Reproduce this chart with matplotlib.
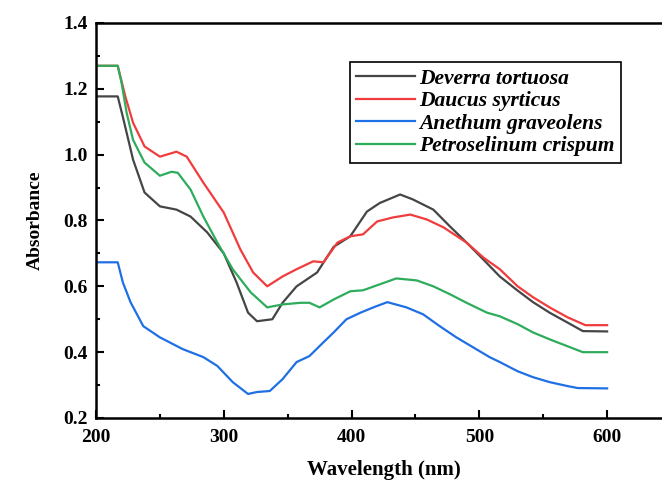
import numpy as np
import matplotlib
matplotlib.use("Agg")
import matplotlib.pyplot as plt
from matplotlib.ticker import MultipleLocator

plt.rcParams['font.family'] = ['Liberation Serif', 'DejaVu Serif']

# Deverra tortuosa
wl_dev = [200, 217, 221, 229, 238, 250, 263, 274, 287, 300, 310, 319, 326, 338, 346, 357,
          373, 386, 399, 412, 422, 438, 448, 464, 477, 490, 503, 516, 529, 542, 555, 569, 581, 600]
ab_dev = [1.177, 1.177, 1.115, 0.985, 0.885, 0.843, 0.833, 0.812, 0.764, 0.70, 0.612, 0.52, 0.494, 0.50, 0.55, 0.60,
          0.642, 0.72, 0.752, 0.827, 0.853, 0.879, 0.864, 0.833, 0.782, 0.733, 0.682, 0.63, 0.59, 0.552, 0.52, 0.49, 0.464, 0.463]

# Daucus syrticus
wl_dau = [200, 217, 223, 229, 238, 250, 263, 271, 284, 300, 313, 323, 334, 346, 357, 370, 378,
          389, 399, 409, 420, 432, 446, 459, 472, 490, 503, 516, 530, 542, 555, 569, 583, 600]
ab_dau = [1.27, 1.27, 1.176, 1.097, 1.025, 0.994, 1.009, 0.994, 0.915, 0.824, 0.712, 0.642, 0.60, 0.63, 0.652, 0.676, 0.673,
          0.733, 0.752, 0.758, 0.797, 0.809, 0.818, 0.803, 0.779, 0.733, 0.688, 0.652, 0.60, 0.567, 0.536, 0.506, 0.482, 0.482]

# Anethum graveolens
wl_ane = [200, 217, 221, 227, 237, 250, 268, 284, 295, 307, 319, 326, 336, 346, 357, 367, 378,
          386, 396, 407, 417, 428, 443, 456, 469, 482, 495, 508, 516, 530, 542, 555, 569, 577, 600]
ab_ane = [0.673, 0.673, 0.612, 0.552, 0.479, 0.445, 0.409, 0.385, 0.358, 0.309, 0.273, 0.279, 0.282, 0.318, 0.37, 0.388, 0.43,
          0.46, 0.50, 0.52, 0.536, 0.552, 0.536, 0.515, 0.479, 0.445, 0.415, 0.385, 0.37, 0.342, 0.324, 0.309, 0.297, 0.291, 0.29]

# Petroselinum crispum
wl_pet = [200, 217, 220, 224, 229, 238, 250, 259, 264, 274, 284, 295, 307, 321, 334, 346, 360, 367,
          375, 386, 399, 409, 422, 435, 451, 464, 477, 490, 506, 516, 530, 542, 555, 569, 581, 600]
ab_pet = [1.27, 1.27, 1.218, 1.127, 1.045, 0.976, 0.936, 0.948, 0.945, 0.894, 0.812, 0.733, 0.652, 0.582, 0.536, 0.545, 0.55, 0.55,
          0.536, 0.56, 0.585, 0.588, 0.606, 0.624, 0.618, 0.60, 0.576, 0.55, 0.52, 0.509, 0.485, 0.46, 0.439, 0.418, 0.40, 0.40]

names = ['Deverra tortuosa', 'Daucus syrticus', 'Anethum graveolens', 'Petroselinum crispum']
colors = ['#454545', '#f03c3c', '#1f6fe5', '#2eac5c']

fig = plt.figure(figsize=(6.62, 4.8), dpi=100)
ax = fig.add_axes([96 / 662, 62 / 480, 575 / 662, 395 / 480])

series = [(wl_dev, ab_dev), (wl_dau, ab_dau), (wl_ane, ab_ane), (wl_pet, ab_pet)]
for (x, y), name, c in zip(series, names, colors):
    ax.plot(x, y, color=c, lw=1.6, label=name)

ax.set_xlim(200, 650)
ax.set_ylim(0.2, 1.4)
ax.xaxis.set_major_locator(MultipleLocator(100))
ax.xaxis.set_minor_locator(MultipleLocator(50))
ax.yaxis.set_major_locator(MultipleLocator(0.2))
ax.yaxis.set_minor_locator(MultipleLocator(0.1))
ax.yaxis.set_major_formatter(plt.FormatStrFormatter('%.1f'))
ax.tick_params(which='both', direction='in', width=1.5, labelsize=14)
ax.tick_params(which='major', length=6)
ax.tick_params(which='minor', length=3)
ax.tick_params(axis='x', pad=8)
ax.tick_params(axis='y', pad=6)
for lab in ax.get_xticklabels() + ax.get_yticklabels():
    lab.set_fontweight('bold')
for s in ax.spines.values():
    s.set_linewidth(1.8)

ax.set_xlabel('Wavelength (nm)', fontsize=15, fontweight='bold', labelpad=10)
ax.set_ylabel('Absorbance', fontsize=14, fontweight='bold', labelpad=14)

leg = ax.legend(loc='upper left', bbox_to_anchor=(350 / 662, 1 - 62 / 480),
                bbox_transform=fig.transFigure, fancybox=False, edgecolor='black',
                framealpha=1, handlelength=2.7, borderpad=0.3, labelspacing=0.12,
                handletextpad=0.2, borderaxespad=0,
                prop={'size': 15.5, 'weight': 'bold', 'style': 'italic'})
leg.get_frame().set_linewidth(1.2)

fig.savefig('out.png', dpi=100)
